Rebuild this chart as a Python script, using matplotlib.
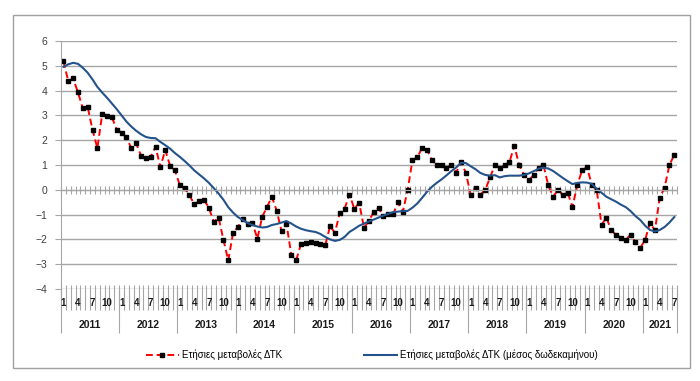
import matplotlib
matplotlib.use("Agg")
import matplotlib.pyplot as plt
from matplotlib.patches import Rectangle
import numpy as np

plt.rcParams['font.family'] = ['Liberation Sans', 'DejaVu Sans']

# monthly data, Jan 2011 - Jul 2021
years = ['2011', '2012', '2013', '2014', '2015', '2016', '2017', '2018', '2019', '2020', '2021']
months_per_year = [12, 12, 12, 12, 12, 12, 12, 12, 12, 12, 7]
month_labels = ['1', '4', '7', '10']

annual_change = [
    5.19, 4.38, 4.49, 3.93, 3.28, 3.34, 2.42, 1.68, 3.05, 2.99, 2.93, 2.42,
    2.31, 2.11, 1.68, 1.88, 1.38, 1.30, 1.34, 1.74, 0.91, 1.61, 0.97, 0.78,
    0.19, 0.07, -0.22, -0.59, -0.46, -0.41, -0.72, -1.30, -1.12, -2.01, -2.85, -1.73,
    -1.50, -1.16, -1.36, -1.34, -1.97, -1.09, -0.69, -0.28, -0.85, -1.68, -1.36, -2.62,
    -2.85, -2.18, -2.14, -2.11, -2.15, -2.18, -2.24, -1.47, -1.73, -0.93, -0.76, -0.19,
    -0.76, -0.53, -1.53, -1.26, -0.89, -0.73, -1.07, -0.99, -0.99, -0.51, -0.89, -0.01,
    1.20, 1.31, 1.70, 1.61, 1.20, 1.00, 1.00, 0.89, 1.00, 0.69, 1.11, 0.69,
    -0.19, 0.09, -0.19, -0.01, 0.50, 1.00, 0.89, 1.00, 1.11, 1.78, 1.00, 0.59,
    0.39, 0.59, 0.89, 1.00, 0.19, -0.28, -0.01, -0.19, -0.11, -0.69, 0.19, 0.80,
    0.91, 0.19, -0.01, -1.41, -1.12, -1.64, -1.81, -1.93, -2.01, -1.81, -2.11, -2.34,
    -2.01, -1.32, -1.64, -0.32, 0.09, 1.00, 1.41,
]

avg_12m = [
    4.96, 5.06, 5.12, 5.08, 4.92, 4.72, 4.45, 4.15, 3.92, 3.71, 3.48, 3.25,
    3.00, 2.75, 2.55, 2.38, 2.24, 2.13, 2.09, 2.08, 1.93, 1.80, 1.66, 1.48,
    1.33, 1.16, 0.98, 0.78, 0.62, 0.46, 0.28, 0.07, -0.15, -0.40, -0.70, -0.92,
    -1.10, -1.22, -1.34, -1.42, -1.48, -1.52, -1.50, -1.42, -1.38, -1.32, -1.26, -1.36,
    -1.48, -1.57, -1.63, -1.67, -1.70, -1.78, -1.90, -2.00, -2.06, -2.02, -1.90, -1.70,
    -1.58, -1.45, -1.36, -1.28, -1.20, -1.12, -1.04, -0.97, -0.90, -0.88, -0.86, -0.85,
    -0.72, -0.55, -0.32, -0.08, 0.12, 0.28, 0.42, 0.58, 0.75, 0.90, 1.08, 1.08,
    0.95, 0.83, 0.68, 0.60, 0.57, 0.59, 0.50, 0.55, 0.57, 0.57, 0.57, 0.60,
    0.66, 0.75, 0.85, 0.89, 0.86, 0.76, 0.62, 0.48, 0.35, 0.23, 0.28, 0.30,
    0.29, 0.24, 0.04, -0.12, -0.28, -0.38, -0.48, -0.60, -0.70, -0.86, -1.06, -1.22,
    -1.45, -1.62, -1.68, -1.62, -1.50, -1.32, -1.10,
]

label1 = 'Ετήσιες μεταβολές ΔΤΚ'
label2 = 'Ετήσιες μεταβολές ΔΤΚ (μέσος δωδεκαμήνου)'

grid_col = '#a6a6a6'
n = len(annual_change)
x = np.arange(n)

fig = plt.figure(figsize=(7.0, 3.81), dpi=100)
ax = fig.add_axes([61/700, 1-289/381, (676.7-61)/700, 248/381])

ax.set_xlim(-0.5, n-0.5)
ax.set_ylim(-4, 6)
ax.set_yticks(range(-4, 7))
ax.yaxis.grid(True, color=grid_col, linewidth=1.0)
ax.set_axisbelow(True)

for s in ['top', 'right']:
    ax.spines[s].set_visible(False)
ax.spines['left'].set_color(grid_col)
ax.spines['bottom'].set_position(('data', 0))
ax.spines['bottom'].set_color(grid_col)

ax.set_xticks(np.arange(n+1) - 0.5)
ax.tick_params(axis='x', direction='inout', length=6, color=grid_col, labelbottom=False)
ax.tick_params(axis='y', direction='out', length=4, color=grid_col,
               labelsize=7.5, labelcolor='#404040', pad=6)

l1, = ax.plot(x, annual_change, color='red', linestyle=(0, (3.5, 2)), linewidth=1.4,
              marker='s', markersize=2.2, markerfacecolor='black', markeredgecolor='black')
l2, = ax.plot(x, avg_12m, color='#23538a', linewidth=1.5)

# category labels under the plot
tr = ax.get_xaxis_transform()
ax.vlines(np.arange(n+1) - 0.5, 0.016, -0.085, transform=tr, colors=grid_col,
          linewidth=0.8, clip_on=False)
start = 0
bounds = [-0.5]
for yr, cnt in zip(years, months_per_year):
    for k, lab in zip([0, 3, 6, 9], month_labels):
        if k < cnt:
            ax.text(start + k, -0.056, lab, transform=tr, ha='center', va='center',
                    fontsize=7, fontweight='bold', color='#1a1a1a')
    ax.text(start + (cnt-1)/2, -0.145, yr, transform=tr, ha='center', va='center',
            fontsize=7.5, fontweight='bold', color='#1a1a1a')
    start += cnt
    bounds.append(start - 0.5)
ax.vlines(bounds, 0, -0.177, transform=tr, colors=grid_col, linewidth=0.8, clip_on=False)

fig.legend([l1, l2], [label1, label2], ncol=2, loc='center',
           bbox_to_anchor=(0.531, 1-355/381), frameon=False, fontsize=7,
           handlelength=3.4, handletextpad=0.3, columnspacing=8.4)

# chart border
fig.patches.append(Rectangle((13/700, 1-368/381), (690-13)/700, (368-15)/381,
                             transform=fig.transFigure, fill=False,
                             edgecolor='#a0a0a0', linewidth=1.0))

fig.savefig('out.png', dpi=100)
